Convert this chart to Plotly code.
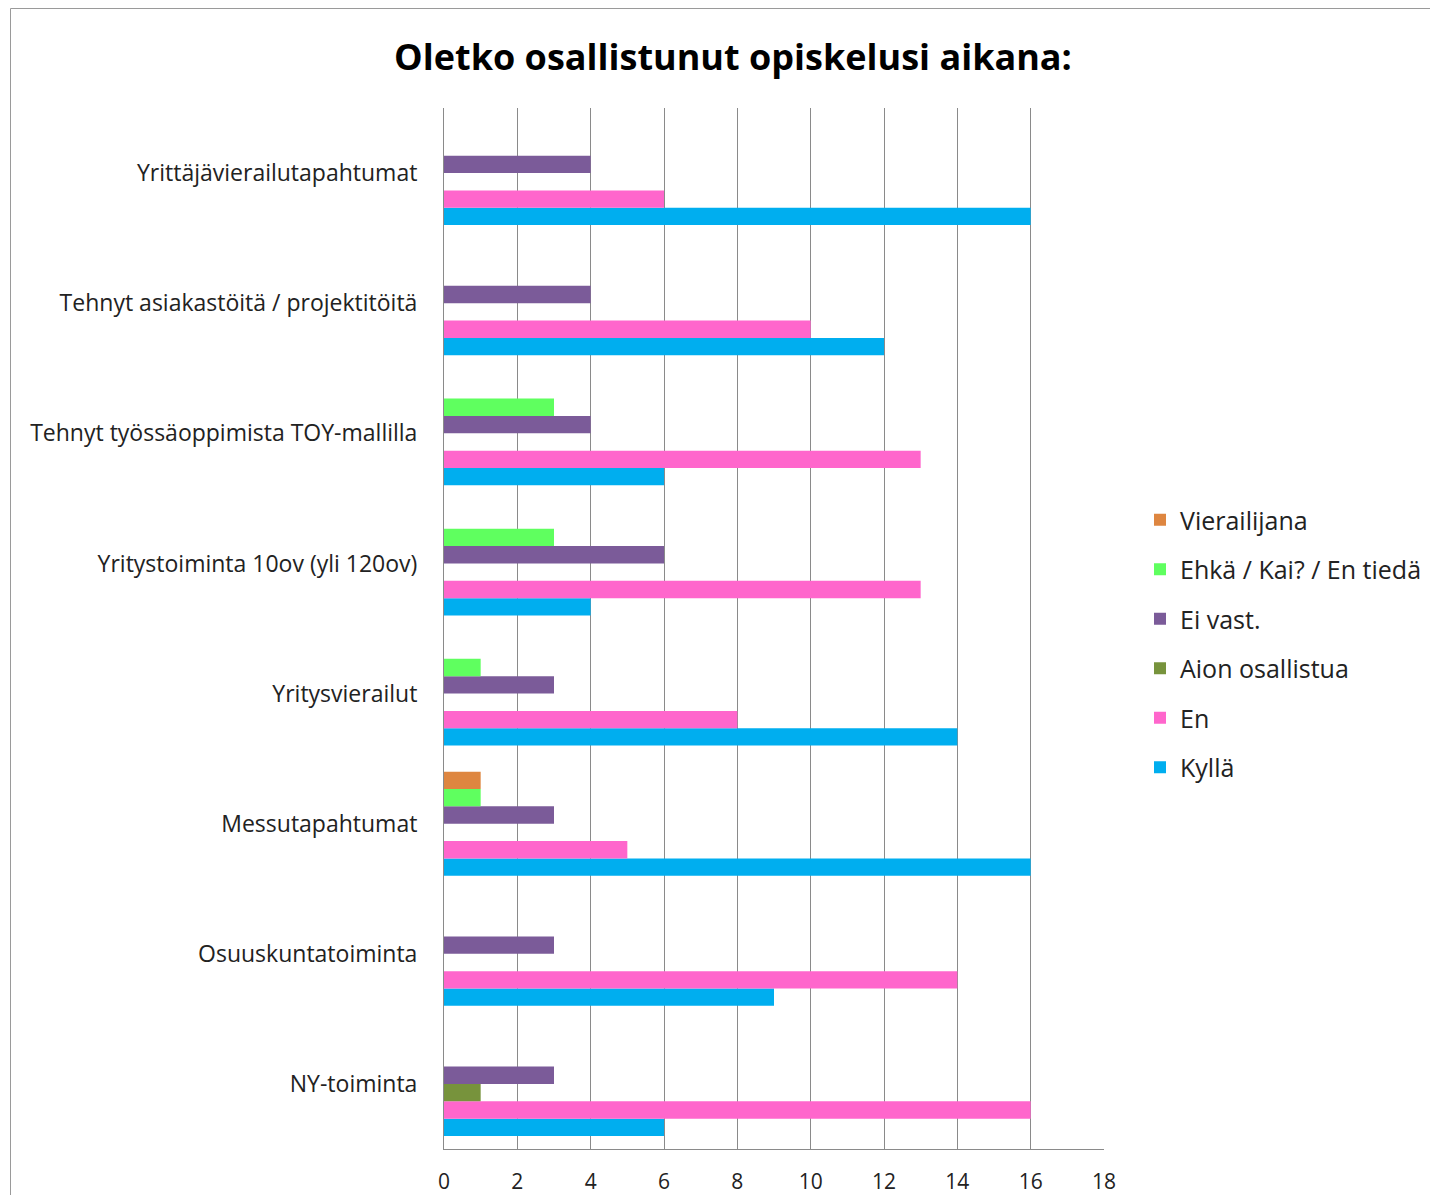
import plotly.graph_objects as go

categories = [
    "NY-toiminta",
    "Osuuskuntatoiminta",
    "Messutapahtumat",
    "Yritysvierailut",
    "Yritystoiminta 10ov (yli 120ov)",
    "Tehnyt työssäoppimista TOY-mallilla",
    "Tehnyt asiakastöitä / projektitöitä",
    "Yrittäjävierailutapahtumat",
]

kylla = [6, 9, 16, 14, 4, 6, 12, 16]
en = [16, 14, 5, 8, 13, 13, 10, 6]
aion_osallistua = [1, 0, 0, 0, 0, 0, 0, 0]
ei_vast = [3, 3, 3, 3, 6, 4, 4, 4]
ehka = [0, 0, 1, 1, 3, 3, 0, 0]
vierailijana = [0, 0, 1, 0, 0, 0, 0, 0]

series_names = ["Kyllä", "En", "Aion osallistua", "Ei vast.", "Ehkä / Kai? / En tiedä", "Vierailijana"]
series_values = [kylla, en, aion_osallistua, ei_vast, ehka, vierailijana]
series_colors = ["#00AEEF", "#FF66CC", "#77933C", "#7B5B99", "#5FFF5F", "#DE8640"]

x_ticks = [0, 2, 4, 6, 8, 10, 12, 14, 16, 18]

OFF = 8  # page body margin
W, H = 1438 - 2 * OFF, 1203 - 2 * OFF
# plot area in page pixels, converted to figure pixels
L, R, T, B = 444 - OFF, 1104 - OFF, 108 - OFF, 1149 - OFF

fig = go.Figure()
n = len(series_names)
for i, (name, vals, col) in enumerate(zip(series_names, series_values, series_colors)):
    fig.add_trace(go.Bar(
        y=categories, x=vals, name=name, orientation="h",
        marker=dict(color=col, line=dict(width=0)),
        legendgroup=f"g{i}", legendrank=100 * (n - i),
    ))

font = "'Open Sans', 'Noto Sans', sans-serif"

def px_to_paper_x(px):
    return (px - OFF - L) / (R - L)

def px_to_paper_y(py):
    return (B - (py - OFF)) / (B - T)

fig.update_layout(
    width=W, height=H,
    margin=dict(l=L, r=W - R, t=T, b=H - B, autoexpand=False),
    template="none",
    paper_bgcolor="white", plot_bgcolor="white",
    barmode="group", bargap=0.2, bargroupgap=0,
    font=dict(family=font, size=21, color="#222222"),
    title=dict(
        text="<b>Oletko osallistunut opiskelusi aikana:</b>",
        x=(733 - OFF) / W, xanchor="center", xref="container",
        y=1 - (57 - OFF) / H, yanchor="middle", yref="container",
        font=dict(family=font, size=36, color="black"),
    ),
    legend=dict(
        x=px_to_paper_x(1140), xanchor="left",
        y=px_to_paper_y(497), yanchor="top",
        traceorder="grouped",
        tracegroupgap=14,
        font=dict(family=font, size=25, color="#222222"),
        itemwidth=30,
        bgcolor="rgba(0,0,0,0)",
    ),
    xaxis=dict(
        range=[0, 18], tickvals=x_ticks, ticktext=[str(v) for v in x_ticks],
        showgrid=True, gridcolor="#8a8a8a", gridwidth=1,
        zeroline=False, showline=True, linecolor="#8a8a8a", linewidth=1,
        ticks="", ticklabelstandoff=14, automargin=False,
        tickfont=dict(family=font, size=21, color="#222222"),
        fixedrange=True,
    ),
    yaxis=dict(
        categoryorder="array", categoryarray=categories,
        range=[-0.5, 7.5],
        showgrid=False, zeroline=False, showline=True, linecolor="#8a8a8a", linewidth=1,
        ticks="", ticklabelstandoff=21, automargin=False,
        tickfont=dict(family=font, size=23, color="#222222"),
        fixedrange=True,
    ),
    shapes=[dict(
        type="rect", xref="paper", yref="paper",
        x0=px_to_paper_x(10.5), x1=px_to_paper_x(1460),
        y0=px_to_paper_y(1225), y1=px_to_paper_y(8.5),
        line=dict(color="#9a9a9a", width=1), fillcolor="rgba(0,0,0,0)",
        layer="below",
    )],
)

fig.write_html("out.html")
